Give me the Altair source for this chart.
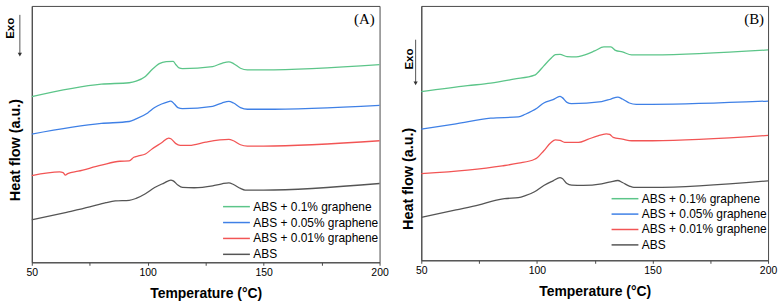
import altair as alt
import pandas as pd

# ---------------- data ----------------
SERIES = ["ABS + 0.1% graphene", "ABS + 0.05% graphene", "ABS + 0.01% graphene", "ABS"]
COLORS = ["#5cc589", "#3f80e6", "#f25555", "#555555"]

# Panel (A)
a_green_t = [50, 80, 92, 95, 99, 102, 105, 108, 111, 112, 113.5, 115, 128, 132, 135, 137, 140, 143, 150, 200]
a_green_v = [166.7, 179.3, 180.7, 182.3, 187.0, 194.3, 200.0, 202.0, 202.3, 199.3, 195.7, 195.0, 197.0, 200.3, 201.7, 200.0, 195.3, 193.7, 193.7, 199.0]

a_blue_t = [50, 80, 92, 95, 100, 103, 106, 109, 110, 111.5, 113, 115, 128, 132, 135, 137, 140, 143, 150, 200]
a_blue_v = [129.0, 139.7, 141.7, 144.3, 150.3, 155.7, 159.3, 161.7, 162.3, 159.3, 155.7, 154.7, 157.0, 160.3, 162.0, 160.3, 155.7, 154.0, 154.0, 158.0]

a_red_t = [50, 62, 63.5, 64.5, 65.5, 70, 80, 88, 92, 94, 96, 99, 102, 106, 109, 110, 112, 114, 118, 125, 135, 137, 140, 143, 150, 200]
a_red_v = [87.3, 91.0, 90.3, 87.7, 89.3, 91.7, 97.7, 101.7, 102.0, 105.7, 107.0, 109.0, 114.3, 120.3, 125.0, 124.3, 119.7, 117.7, 117.7, 121.0, 123.7, 122.3, 118.3, 117.0, 117.0, 122.3]

a_abs_t = [50, 65, 75, 82, 86, 92, 95, 99, 103, 107, 110, 111, 113, 115, 120, 128, 132, 135, 137, 140, 142, 150, 200]
a_abs_v = [42.7, 50.3, 55.7, 60.0, 61.7, 62.3, 64.3, 69.0, 75.3, 79.7, 82.7, 82.0, 77.7, 75.3, 75.0, 77.0, 79.0, 80.0, 78.3, 74.3, 72.7, 72.7, 79.3]

# Panel (B)
b_green_t = [50, 70, 80, 90, 99, 100, 103, 106, 108, 110, 113, 117, 120, 125, 129, 132, 134, 137, 141, 150, 200]
b_green_v = [169.7, 175.7, 178.3, 182.3, 186.3, 188.0, 195.7, 203.0, 207.0, 207.3, 205.0, 204.7, 206.3, 210.7, 214.7, 214.7, 211.3, 209.7, 206.7, 206.7, 211.7]

b_blue_t = [50, 65, 80, 92, 95, 100, 103, 107, 110, 111, 113, 115, 128, 132, 135, 137, 140, 143, 150, 200]
b_blue_v = [132.0, 137.3, 143.0, 144.3, 147.0, 153.0, 158.3, 161.7, 165.0, 163.7, 159.0, 157.7, 159.7, 162.3, 164.3, 162.3, 158.3, 157.0, 157.0, 160.3]

b_red_t = [50, 70, 85, 92, 99, 100, 103, 106, 108, 110, 112, 118, 122, 126, 130, 131.5, 133, 137, 141, 150, 200]
b_red_v = [87.3, 90.7, 95.0, 97.7, 101.7, 103.0, 110.3, 118.3, 121.3, 120.7, 118.7, 118.7, 121.7, 125.0, 127.3, 126.7, 123.7, 122.0, 120.3, 120.3, 125.7]

b_abs_t = [50, 65, 75, 82, 86, 92, 95, 99, 103, 107, 110, 111, 113, 115, 120, 128, 132, 135, 137, 140, 142, 150, 200]
b_abs_v = [43.3, 50.7, 55.7, 60.3, 62.0, 63.0, 65.0, 69.0, 75.3, 80.0, 83.3, 82.3, 77.3, 75.7, 75.3, 77.0, 79.0, 80.3, 78.3, 74.7, 73.3, 73.3, 80.0]

X_TICKS = [50, 75, 100, 125, 150, 175, 200]
Y_TITLE = "Heat flow (a.u.)"
X_TITLE = "Temperature (°C)"

FONT = "Liberation Sans"
FRAME = "#4a4a4a"


def frame(series_lists):
    rows = []
    for name, ts, vs in series_lists:
        for t, v in zip(ts, vs):
            rows.append({"series": name, "temp": t, "flow": v})
    return pd.DataFrame(rows)


def panel(df, ymax, label, title_x, title_y, exo_x, exo_y, arr_x, arr_y1, arr_y2,
          leg_x, leg_y, leg_row):
    lines = alt.Chart(df).mark_line(strokeWidth=1.3, interpolate="monotone").encode(
        x=alt.X("temp:Q",
                scale=alt.Scale(domain=[50, 200], nice=False, zero=False),
                axis=alt.Axis(title=X_TITLE, values=X_TICKS,
                              labelExpr="datum.value % 50 == 0 ? datum.label : ''",
                              tickSize=3, tickColor=FRAME, domainColor=FRAME,
                              labelFont=FONT, labelFontSize=10.5, labelColor="black",
                              labelPadding=2, labelFlush=False,
                              titleFont=FONT, titleFontSize=14, titleFontWeight="bold",
                              titleColor="black", titlePadding=9, grid=False)),
        y=alt.Y("flow:Q",
                scale=alt.Scale(domain=[0, ymax], nice=False, zero=False),
                axis=alt.Axis(title=None, labels=False, ticks=False,
                              domainColor=FRAME, grid=False)),
        color=alt.Color("series:N",
                        scale=alt.Scale(domain=SERIES, range=COLORS),
                        legend=alt.Legend(orient="none", legendX=leg_x, legendY=leg_y,
                                          title=None, symbolType="M-3,0H3", symbolSize=81,
                                          symbolStrokeWidth=1.5, labelFont=FONT,
                                          labelFontSize=12, labelColor="black",
                                          labelOffset=11, rowPadding=leg_row,
                                          padding=0)),
        detail="series:N",
    )
    ytitle = alt.Chart(pd.DataFrame({"txt": [Y_TITLE]})).mark_text(
        angle=270, font=FONT, fontWeight="bold", fontSize=14.5, color="black",
        align="center", baseline="middle").encode(
        x=alt.value(title_x), y=alt.value(title_y), text="txt:N")
    exo = alt.Chart(pd.DataFrame({"txt": ["Exo"]})).mark_text(
        angle=270, font=FONT, fontWeight="bold", fontSize=11.5, color="black",
        align="center", baseline="middle").encode(
        x=alt.value(exo_x), y=alt.value(exo_y), text="txt:N")
    arrow = alt.Chart(pd.DataFrame({"a": [0]})).mark_rule(color="#555555", strokeWidth=1).encode(
        x=alt.value(arr_x), y=alt.value(arr_y1), y2=alt.value(arr_y2 - 3))
    head = alt.Chart(pd.DataFrame({"a": [0]})).mark_point(
        shape="triangle-down", filled=True, size=18, color="#333333", opacity=1).encode(
        x=alt.value(arr_x), y=alt.value(arr_y2 - 2))
    lab = alt.Chart(pd.DataFrame({"txt": [label]})).mark_text(
        font="Liberation Serif", fontSize=15, color="black", align="right",
        baseline="alphabetic").encode(
        x=alt.value(345), y=alt.value(18), text="txt:N")
    return alt.layer(lines, ytitle, exo, arrow, head, lab)


df_a = frame([(SERIES[0], a_green_t, a_green_v), (SERIES[1], a_blue_t, a_blue_v),
              (SERIES[2], a_red_t, a_red_v), (SERIES[3], a_abs_t, a_abs_v)])
df_b = frame([(SERIES[0], b_green_t, b_green_v), (SERIES[1], b_blue_t, b_blue_v),
              (SERIES[2], b_red_t, b_red_v), (SERIES[3], b_abs_t, b_abs_v)])

pa = panel(df_a, 258, "(A)", -16, 145, -20.5, 22.5, -12, 9, 51, 200, 196, 4).properties(
    width=350, height=258)
pb = panel(df_b, 256, "(B)", -12, 174, -11.3, 53.5, -5.7, 34, 80, 199, 188, 3.5).properties(
    width=349, height=256)

chart = alt.hconcat(pa, pb, spacing=11).resolve_scale(color="independent").configure(
    padding={"left": 5, "top": 4, "right": 0, "bottom": 0},
    background="white",
).configure_view(stroke=FRAME, strokeWidth=1)

chart.save("out.html", embed_options={"renderer": "svg", "actions": False})
